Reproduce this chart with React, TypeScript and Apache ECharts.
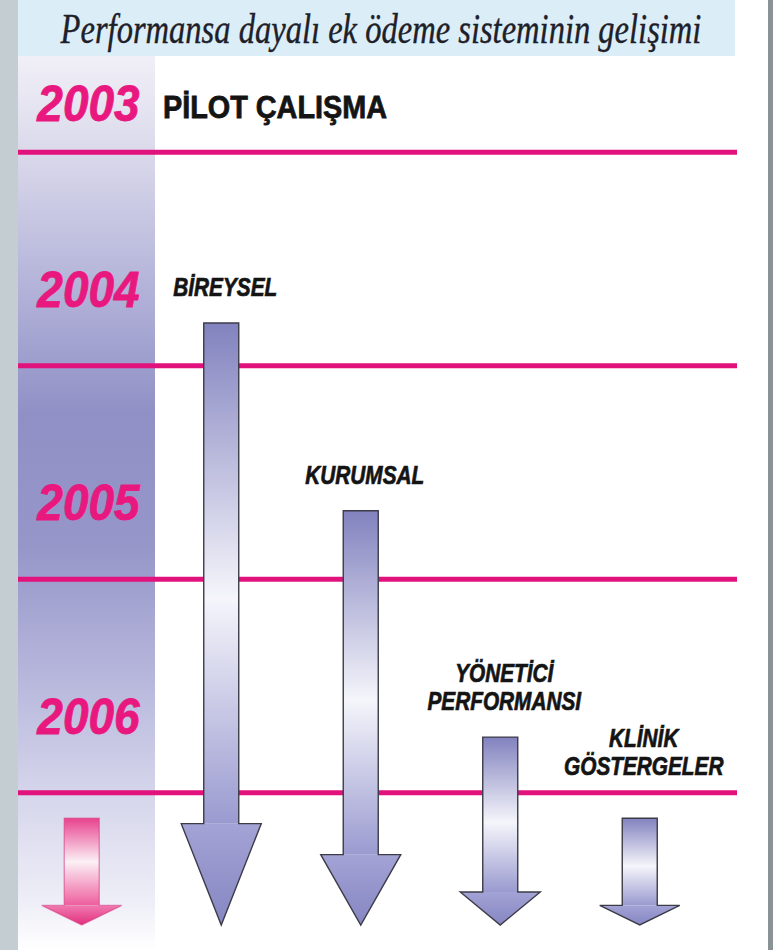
import React, { useEffect, useRef } from "react";
import * as echarts from "echarts";

const TITLE = "Performansa dayalı ek ödeme sisteminin gelişimi";
const years = [2003, 2004, 2005, 2006];
const yearNotes = ["PİLOT ÇALIŞMA", "", "", ""];
const programs = ["", "BİREYSEL", "KURUMSAL", "YÖNETİCİ\nPERFORMANSI", "KLİNİK\nGÖSTERGELER"];
const programYear = [0, 2004, 2005, 2006, 2006];
const programStart = [2007.12, 2004.8, 2005.68, 2006.74, 2007.12];
const timelineEnd = 2007.62;
const timelineStart = 2003.545;

const PANEL_LEFT = 18;
const PANEL_RIGHT = 737;
const COL_RIGHT = 155;
const MAGENTA = "#e2127c";
const YEAR_PINK = "#e8187f";
const LABEL_FONT = "Liberation Sans, Arial, sans-serif";

const LG = (stops: [number, string][], x2 = 0, y2 = 1) =>
  new echarts.graphic.LinearGradient(0, 0, x2, y2, stops.map(([offset, color]) => ({ offset, color })));

export default function App() {
  const ref = useRef<HTMLDivElement>(null);
  useEffect(() => {
    if (!ref.current) return;
    const chart = echarts.init(ref.current, null, { renderer: "svg" });

    const yearData = years.map((y, i) => [0, y, i]);
    const arrowData = programs.map((p, i) => [i, programStart[i], timelineEnd, programYear[i]]);

    const renderYear = (params: any, api: any) => {
      const year = api.value(1);
      const idx = api.value(2);
      const top = params.coordSys.y;
      const lineY = api.coord([0, year + 1])[1];
      const startY = Math.max(api.coord([0, year])[1], top);
      const labelY = Math.max(lineY - 76, (startY + lineY) / 2);
      const colCenter = (PANEL_LEFT + COL_RIGHT) / 2 + 2;
      const children: any[] = [
        {
          type: "line",
          shape: { x1: PANEL_LEFT, y1: lineY, x2: PANEL_RIGHT, y2: lineY },
          style: { stroke: MAGENTA, lineWidth: 5 },
        },
        {
          type: "text",
          x: colCenter,
          y: labelY,
          scaleX: 0.92,
          style: {
            text: String(year),
            fill: YEAR_PINK,
            stroke: YEAR_PINK,
            lineWidth: 0.8,
            fontSize: 50,
            fontWeight: "bold",
            fontStyle: "italic",
            fontFamily: LABEL_FONT,
            align: "center",
            verticalAlign: "middle",
          },
        },
      ];
      const note = yearNotes[idx];
      if (note) {
        children.push({
          type: "text",
          x: 163,
          y: labelY + 3,
          scaleX: 0.9,
          style: {
            text: note,
            fill: "#141414",
            stroke: "#141414",
            lineWidth: 0.8,
            fontSize: 32,
            fontWeight: "bold",
            fontFamily: LABEL_FONT,
            align: "left",
            verticalAlign: "middle",
          },
        });
      }
      return { type: "group", children };
    };

    const renderArrow = (params: any, api: any) => {
      const i = api.value(0);
      const pTop = api.coord([i, api.value(1)]);
      const pTip = api.coord([i, api.value(2)]);
      const cx = pTop[0];
      const yTop = pTop[1];
      const yTip = pTip[1];
      const headLen = (yTip - yTop) * 0.165 + 2;
      const yHead = yTip - headLen;
      const sw = 17.5;
      const hw = 40;
      const pink = i === 0;
      const shaftFill = pink
        ? LG([[0, "#e8428e"], [0.5, "#fbf0f5"], [1, "#ee5e9e"]])
        : LG([[0, "#8282bf"], [0.55, "#f5f5fb"], [1, "#9a9ad0"]]);
      const headFill = pink
        ? LG([[0, "#f07ab0"], [1, "#e22f7e"]])
        : LG([[0, "#a3a3d6"], [1, "#8686c2"]]);
      const stroke = pink ? "rgba(215,60,130,0.55)" : "#3c3c48";
      const outline = [
        [cx - sw, yTop],
        [cx + sw, yTop],
        [cx + sw, yHead],
        [cx + hw, yHead],
        [cx, yTip],
        [cx - hw, yHead],
        [cx - sw, yHead],
      ];
      const children: any[] = [
        {
          type: "rect",
          shape: { x: cx - sw, y: yTop, width: sw * 2, height: yHead - yTop },
          style: { fill: shaftFill },
        },
        {
          type: "polygon",
          shape: { points: [[cx - hw, yHead], [cx + hw, yHead], [cx, yTip]] },
          style: { fill: headFill },
        },
        {
          type: "polygon",
          shape: { points: outline },
          style: { fill: "none", stroke, lineWidth: 1.4, lineJoin: "miter" },
        },
      ];
      const label = programs[i];
      if (label) {
        const rowLineY = api.coord([i, api.value(3) + 1])[1];
        const labelBottom = Math.min(yTop - 22, rowLineY - 12);
        children.push({
          type: "text",
          x: cx + 4,
          y: labelBottom,
          scaleX: 0.8,
          style: {
            text: label,
            fill: "#141414",
            stroke: "#141414",
            lineWidth: 0.7,
            fontSize: 26,
            lineHeight: 28,
            fontWeight: "bold",
            fontStyle: "italic",
            fontFamily: LABEL_FONT,
            align: "center",
            verticalAlign: "bottom",
          },
        });
      }
      return { type: "group", children };
    };

    chart.setOption({
      animation: false,
      backgroundColor: "#ffffff",
      grid: { left: 12, right: 63.5, top: 55, bottom: 25 },
      xAxis: { type: "category", data: programs, show: false, boundaryGap: true },
      yAxis: { type: "value", inverse: true, min: timelineStart, max: timelineEnd, show: false },
      graphic: [
        { type: "rect", shape: { x: 0, y: 0, width: PANEL_LEFT, height: 950 }, style: { fill: "#c3cdd2" } },
        { type: "rect", shape: { x: 768, y: 0, width: 5, height: 950 }, style: { fill: "#8b9296" } },
        { type: "rect", shape: { x: PANEL_LEFT, y: 0, width: 717, height: 56 }, style: { fill: "#dbeef8" } },
        {
          type: "rect",
          shape: { x: PANEL_LEFT, y: 56, width: COL_RIGHT - PANEL_LEFT, height: 894 },
          style: {
            fill: LG([
              [0, "#f1f0f7"],
              [0.1, "#dcdbec"],
              [0.27, "#b0b0d8"],
              [0.4, "#9090c6"],
              [0.55, "#9696c9"],
              [0.7, "#b8b8dd"],
              [0.83, "#d6d6ec"],
              [0.95, "#efeff8"],
              [1, "#ffffff"],
            ]),
          },
        },
        {
          type: "text",
          x: 381,
          y: 29,
          scaleX: 0.775,
          style: {
            text: TITLE,
            fill: "#1e2029",
            stroke: "#1e2029",
            lineWidth: 0.4,
            fontSize: 42,
            fontStyle: "italic",
            fontFamily: "Liberation Serif, Times New Roman, serif",
            align: "center",
            verticalAlign: "middle",
          },
        },
      ],
      series: [
        {
          type: "custom",
          name: "years",
          data: yearData,
          renderItem: renderYear,
          clip: false,
          z: 2,
        },
        {
          type: "custom",
          name: "programs",
          data: arrowData,
          renderItem: renderArrow,
          clip: false,
          z: 3,
        },
      ],
    });
    return () => chart.dispose();
  }, []);
  return (
    <div
      ref={ref}
      style={{ position: "absolute", left: 0, top: 0, width: 773, height: 950 }}
    />
  );
}
